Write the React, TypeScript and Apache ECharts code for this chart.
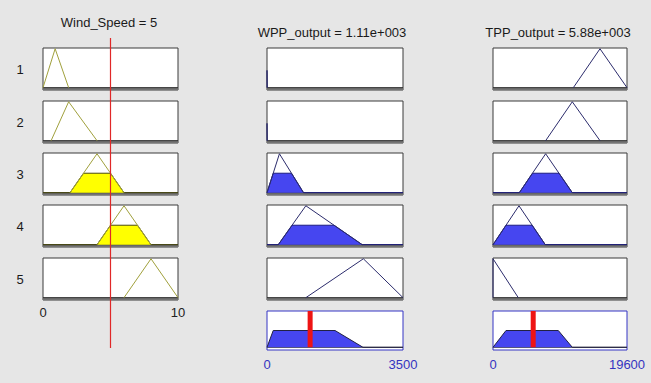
import React, { useEffect, useRef } from "react";
import * as echarts from "echarts";

// Fuzzy rule viewer: one input (Wind_Speed), two outputs (WPP_output, TPP_output)
const ruleLabels = ["1", "2", "3", "4", "5"];

const windRange = [0, 10];
const wppRange = [0, 3500];
const tppRange = [0, 19600];

const windInput = 5;
const wppOutput = 1110;
const tppOutput = 5880;

// Triangular membership functions [a, b, c] per rule
const windMFs = [
  [0, 0.9, 1.9],
  [0.6, 1.9, 4.0],
  [2, 4, 6],
  [4, 6, 8],
  [6, 8, 10],
];
const wppMFs = [
  [-20, -10, 8],
  [-20, -10, 8],
  [0, 320, 940],
  [290, 1000, 2450],
  [1000, 2480, 3500],
];
const tppMFs = [
  [11750, 15650, 19600],
  [7700, 11600, 15650],
  [3850, 7700, 11600],
  [0, 3800, 7650],
  [-3800, 0, 3700],
];

// Firing strength of each rule at the current input
const ruleStrength = [0, 0, 0.5, 0.5, 0];

// Aggregated output sets
const wppAggregate = [
  [0, 0],
  [160, 0.5],
  [1750, 0.5],
  [2470, 0],
  [3500, 0],
];
const tppAggregate = [
  [0, 0],
  [1900, 0.5],
  [9550, 0.5],
  [11600, 0],
  [19600, 0],
];

const FONT = "'Liberation Sans', Arial, sans-serif";

const colLeft = [43, 267, 493];
const colWidth = [135, 136, 134];
const rowTop = [48, 101, 153, 205, 258];
const rowHeight = 42;
const aggTop = 311;
const aggHeight = 39;

function tri(p: number[], x: number) {
  const [a, b, c] = p;
  const up = b === a ? (x >= a ? 1 : 0) : (x - a) / (b - a);
  const down = c === b ? (x <= c ? 1 : 0) : (c - x) / (c - b);
  return Math.max(0, Math.min(up, down, 1));
}

function outline(p: number[], lo: number, hi: number) {
  const [a, b, c] = p;
  const pts: number[][] = [];
  if (a < lo) {
    pts.push([lo, 0], [lo, tri(p, lo)]);
  } else {
    pts.push([a, 0]);
  }
  if (b > lo && b < hi) pts.push([b, tri(p, b)]);
  if (c > hi) {
    pts.push([hi, tri(p, hi)], [hi, 0]);
  } else {
    pts.push([c, 0]);
  }
  return pts;
}

function clipped(p: number[], d: number, lo: number, hi: number) {
  const [a, b, c] = p;
  const xs = [lo, a, a + d * (b - a), c - d * (c - b), c, hi]
    .filter((x) => x >= lo && x <= hi)
    .sort((u, v) => u - v);
  return xs.map((x) => [x, Math.min(tri(p, x), d)]);
}

export default function App() {
  const ref = useRef<HTMLDivElement>(null);

  useEffect(() => {
    if (!ref.current) return;
    const chart = echarts.init(ref.current, undefined, { renderer: "svg" });

    const grids: any[] = [];
    const xAxes: any[] = [];
    const yAxes: any[] = [];
    const series: any[] = [];

    const columns = [
      { mfs: windMFs, range: windRange, line: "#a0a03c", fill: "#ffff00", edge: "#4a4a10", label: "#222222" },
      { mfs: wppMFs, range: wppRange, line: "#2c2c6c", fill: "#4646f0", edge: "#1c1c80", label: "#3434c0" },
      { mfs: tppMFs, range: tppRange, line: "#2c2c6c", fill: "#4646f0", edge: "#1c1c80", label: "#3434c0" },
    ];

    const hiddenY = (gi: number, min: number, max: number) => ({
      type: "value",
      gridIndex: gi,
      min,
      max,
      show: false,
      splitLine: { show: false },
    });

    const xAxisFor = (gi: number, range: number[], showLabel: boolean, color: string, margin: number) => ({
      type: "value",
      gridIndex: gi,
      min: range[0],
      max: range[1],
      interval: range[1] - range[0],
      axisLine: { show: false },
      axisTick: { show: false },
      splitLine: { show: false },
      axisLabel: {
        show: showLabel,
        color,
        fontFamily: FONT,
        fontSize: 13,
        margin,
        showMinLabel: true,
        showMaxLabel: true,
        formatter: (v: number) => String(v),
      },
    });

    columns.forEach((col, ci) => {
      const [lo, hi] = col.range;
      for (let r = 0; r < ruleLabels.length; r++) {
        const gi = grids.length;
        grids.push({
          show: true,
          left: colLeft[ci],
          top: rowTop[r],
          width: colWidth[ci],
          height: rowHeight,
          backgroundColor: "#ffffff",
          borderColor: "#3a3a3a",
          borderWidth: 1,
        });
        xAxes.push(xAxisFor(gi, col.range, ci === 0 && r === ruleLabels.length - 1, col.label, 6));
        yAxes.push(hiddenY(gi, -0.06, 1.02));

        // baseline and the grey strip beneath it
        series.push({
          type: "line",
          xAxisIndex: gi,
          yAxisIndex: gi,
          data: [
            [lo, 0],
            [hi, 0],
          ],
          symbol: "none",
          silent: true,
          z: 1,
          lineStyle: { color: "#2a2a2a", width: 1 },
          markArea: {
            silent: true,
            itemStyle: { color: "#747474" },
            data: [[{ yAxis: -0.06 }, { yAxis: 0 }]],
          },
        });

        const d = ruleStrength[r];
        if (d > 0) {
          series.push({
            type: "line",
            xAxisIndex: gi,
            yAxisIndex: gi,
            data: clipped(col.mfs[r], d, lo, hi),
            symbol: "none",
            silent: true,
            z: 2,
            lineStyle: { color: col.edge, width: 1 },
            areaStyle: { color: col.fill, opacity: 1 },
          });
        }

        series.push({
          type: "line",
          xAxisIndex: gi,
          yAxisIndex: gi,
          data: outline(col.mfs[r], lo, hi),
          symbol: "none",
          silent: true,
          z: 3,
          lineStyle: { color: col.line, width: 1 },
        });
      }
    });

    // Aggregated output panels with defuzzified value
    const aggregates = [
      { ci: 1, data: wppAggregate, out: wppOutput },
      { ci: 2, data: tppAggregate, out: tppOutput },
    ];
    aggregates.forEach(({ ci, data, out }) => {
      const col = columns[ci];
      const [lo, hi] = col.range;
      const gi = grids.length;
      grids.push({
        show: true,
        left: colLeft[ci],
        top: aggTop,
        width: colWidth[ci],
        height: aggHeight,
        backgroundColor: "#ffffff",
        borderColor: "#3434c4",
        borderWidth: 1,
      });
      xAxes.push(xAxisFor(gi, col.range, true, col.label, 8));
      yAxes.push(hiddenY(gi, -0.08, 1.08));
      series.push({
        type: "line",
        xAxisIndex: gi,
        yAxisIndex: gi,
        data: [
          [lo, 0],
          [hi, 0],
        ],
        symbol: "none",
        silent: true,
        z: 1,
        lineStyle: { color: "#333333", width: 1 },
      });
      series.push({
        type: "line",
        xAxisIndex: gi,
        yAxisIndex: gi,
        data,
        symbol: "none",
        silent: true,
        z: 2,
        lineStyle: { color: "#222244", width: 1 },
        areaStyle: { color: col.fill, opacity: 1 },
      });
      series.push({
        type: "line",
        xAxisIndex: gi,
        yAxisIndex: gi,
        data: [
          [out, 0],
          [out, 1.08],
        ],
        symbol: "none",
        silent: true,
        z: 5,
        lineStyle: { color: "#ee1414", width: 5, cap: "butt" },
      });
    });

    // Input cursor across the Wind_Speed column
    const ci0 = grids.length;
    grids.push({ show: false, left: colLeft[0], top: 38, width: colWidth[0], height: 310 });
    xAxes.push({ ...xAxisFor(ci0, windRange, false, "#000", 0) });
    yAxes.push(hiddenY(ci0, 0, 1));
    series.push({
      type: "line",
      xAxisIndex: ci0,
      yAxisIndex: ci0,
      data: [
        [windInput, 0],
        [windInput, 1],
      ],
      symbol: "none",
      silent: true,
      z: 10,
      lineStyle: { color: "#e02828", width: 1.2 },
    });

    const textEl = (text: string, x: number, y: number, color = "#1a1a1a") => ({
      type: "text",
      x,
      y,
      silent: true,
      style: {
        text,
        fill: color,
        font: `13px ${FONT}`,
        textAlign: "center",
        textVerticalAlign: "middle",
        align: "center",
        verticalAlign: "middle",
      },
    });

    const graphics: any[] = [
      textEl(`Wind_Speed = ${windInput}`, 109, 22),
      textEl(`WPP_output = ${(wppOutput / 1000).toFixed(2)}e+003`, 332, 32),
      textEl(`TPP_output = ${(tppOutput / 1000).toFixed(2)}e+003`, 558, 32),
      ...ruleLabels.map((lab, r) => textEl(lab, 20, rowTop[r] + rowHeight / 2)),
    ];

    chart.setOption({
      animation: false,
      backgroundColor: "#e6e6e6",
      grid: grids,
      xAxis: xAxes,
      yAxis: yAxes,
      series,
      graphic: graphics,
    });

    return () => chart.dispose();
  }, []);

  return (
    <div
      ref={ref}
      style={{ position: "fixed", left: 0, top: 0, width: 651, height: 383 }}
    />
  );
}
